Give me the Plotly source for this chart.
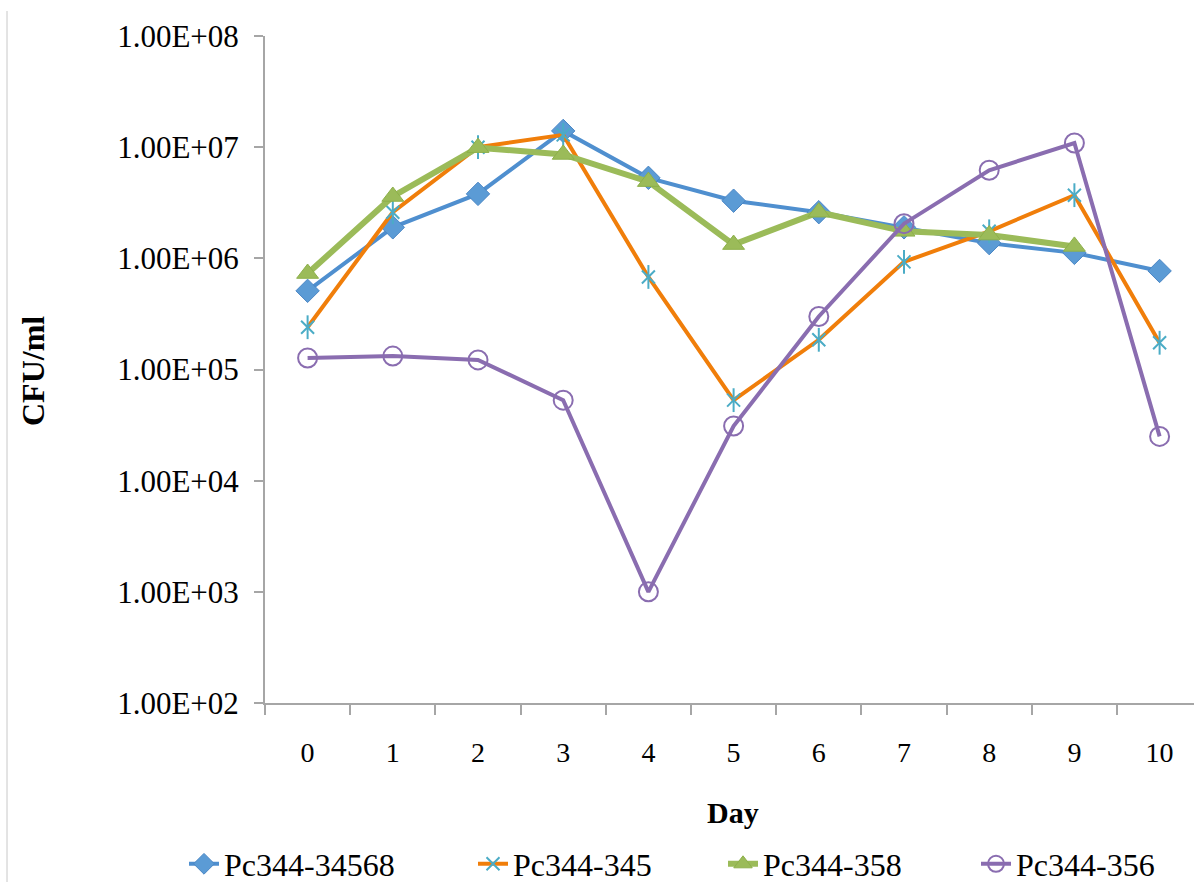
import plotly.graph_objects as go

days = ["0", "1", "2", "3", "4", "5", "6", "7", "8", "9", "10"]

pc_34568 = [5.1e5, 1.9e6, 3.8e6, 1.4e7, 5.3e6, 3.3e6, 2.6e6, 1.9e6, 1.37e6, 1.12e6, 7.7e5]
pc_345 = [2.4e5, 2.6e6, 1.0e7, 1.29e7, 6.8e5, 5.3e4, 1.85e5, 9.3e5, 1.75e6, 3.7e6, 1.74e5]
pc_358 = [7.3e5, 3.6e6, 9.9e6, 8.6e6, 4.9e6, 1.33e6, 2.6e6, 1.75e6, 1.62e6, 1.28e6, None]
pc_356 = [1.27e5, 1.32e5, 1.22e5, 5.3e4, 1.0e3, 3.1e4, 3.0e5, 2.05e6, 6.2e6, 1.09e7, 2.5e4]

ytick_vals = [1e2, 1e3, 1e4, 1e5, 1e6, 1e7, 1e8]
ytick_text = ["1.00E+02", "1.00E+03", "1.00E+04", "1.00E+05", "1.00E+06", "1.00E+07", "1.00E+08"]

series_names = ["Pc344-34568", "Pc344-345", "Pc344-358", "Pc344-356"]

W, H = 1194, 882
L, R, T, B = 265, 0, 36, 179
PW = W - L - R
PH = H - T - B


def px_x(px):
    return (px - L) / PW


def px_y(py):
    return (H - B - py) / PH


FONT = "Liberation Serif, Times New Roman, serif"

BLUE = "#4F8FCF"
BLUE_M = "#5B9BD5"
ORANGE = "#F07E0A"
CYAN = "#4BACC6"
GREEN = "#9BBB59"
PURPLE = "#8A6DB0"

fig = go.Figure()

fig.add_trace(go.Scatter(
    x=days, y=pc_34568, name=series_names[0], mode="lines+markers",
    line=dict(color=BLUE, width=4),
    marker=dict(symbol="diamond", size=18, color=BLUE_M, line=dict(color="#4A86C5", width=1)),
    legend="legend",
))
fig.add_trace(go.Scatter(
    x=days, y=pc_345, name=series_names[1], mode="lines+markers",
    line=dict(color=ORANGE, width=4),
    marker=dict(symbol="x-thin-open", size=13, color=CYAN, line=dict(color=CYAN, width=2)),
    legend="legend2",
))
fig.add_trace(go.Scatter(
    x=days, y=pc_345, name=series_names[1], mode="markers", showlegend=False,
    marker=dict(symbol="line-ns-open", size=17, color=CYAN, line=dict(color=CYAN, width=2)),
    hoverinfo="skip",
))
fig.add_trace(go.Scatter(
    x=days, y=pc_358, name=series_names[2], mode="lines+markers",
    line=dict(color=GREEN, width=6),
    marker=dict(symbol="triangle-up", size=19, color=GREEN, line=dict(color="#8DB04A", width=1)),
    legend="legend3",
))
fig.add_trace(go.Scatter(
    x=days, y=pc_356, name=series_names[3], mode="lines+markers",
    line=dict(color=PURPLE, width=4),
    marker=dict(symbol="circle-open", size=19, color=PURPLE, line=dict(color=PURPLE, width=2)),
    legend="legend4",
))

leg_common = dict(
    orientation="h", yanchor="middle", xanchor="left",
    font=dict(family=FONT, size=32, color="black"),
    bgcolor="rgba(0,0,0,0)", borderwidth=0,
)
leg_y = px_y(864)
fig.update_layout(
    legend=dict(x=px_x(184), y=leg_y, **leg_common),
    legend2=dict(x=px_x(473), y=leg_y, **leg_common),
    legend3=dict(x=px_x(723), y=leg_y, **leg_common),
    legend4=dict(x=px_x(976), y=leg_y, **leg_common),
)

fig.update_layout(
    width=W, height=H,
    margin=dict(l=L, r=R, t=T, b=B, pad=0, autoexpand=False),
    paper_bgcolor="white", plot_bgcolor="white",
    font=dict(family=FONT, color="black"),
    showlegend=True,
    xaxis=dict(
        type="category", range=[-0.5, -0.5 + PW / 85.2],
        tickson="boundaries", ticks="outside", ticklen=10, tickwidth=2, tickcolor="#A6A6A6",
        showline=True, linecolor="#A6A6A6", linewidth=2,
        showgrid=False, zeroline=False,
        tickfont=dict(family=FONT, size=28, color="black"),
        ticklabelstandoff=23,
        automargin=False,
    ),
    yaxis=dict(
        type="log", range=[2, 8],
        tickvals=ytick_vals, ticktext=ytick_text,
        ticks="outside", ticklen=9, tickwidth=2, tickcolor="#A6A6A6",
        showline=True, linecolor="#A6A6A6", linewidth=2,
        showgrid=False, zeroline=False,
        tickfont=dict(family=FONT, size=31, color="black"),
        ticklabelstandoff=9,
        automargin=False,
    ),
    annotations=[
        dict(text="<b>CFU/ml</b>", x=px_x(33), y=px_y(371), xref="paper", yref="paper",
             textangle=-90, showarrow=False, xanchor="center", yanchor="middle",
             font=dict(family=FONT, size=32, color="black")),
        dict(text="<b>Day</b>", x=px_x(733), y=px_y(812), xref="paper", yref="paper",
             showarrow=False, xanchor="center", yanchor="middle",
             font=dict(family=FONT, size=30, color="black")),
    ],
    shapes=[
        dict(type="line", xref="paper", yref="paper", x0=px_x(7), x1=px_x(7),
             y0=px_y(11), y1=px_y(882), line=dict(color="#C8C8C8", width=1)),
    ],
)

fig.write_html("out.html")
